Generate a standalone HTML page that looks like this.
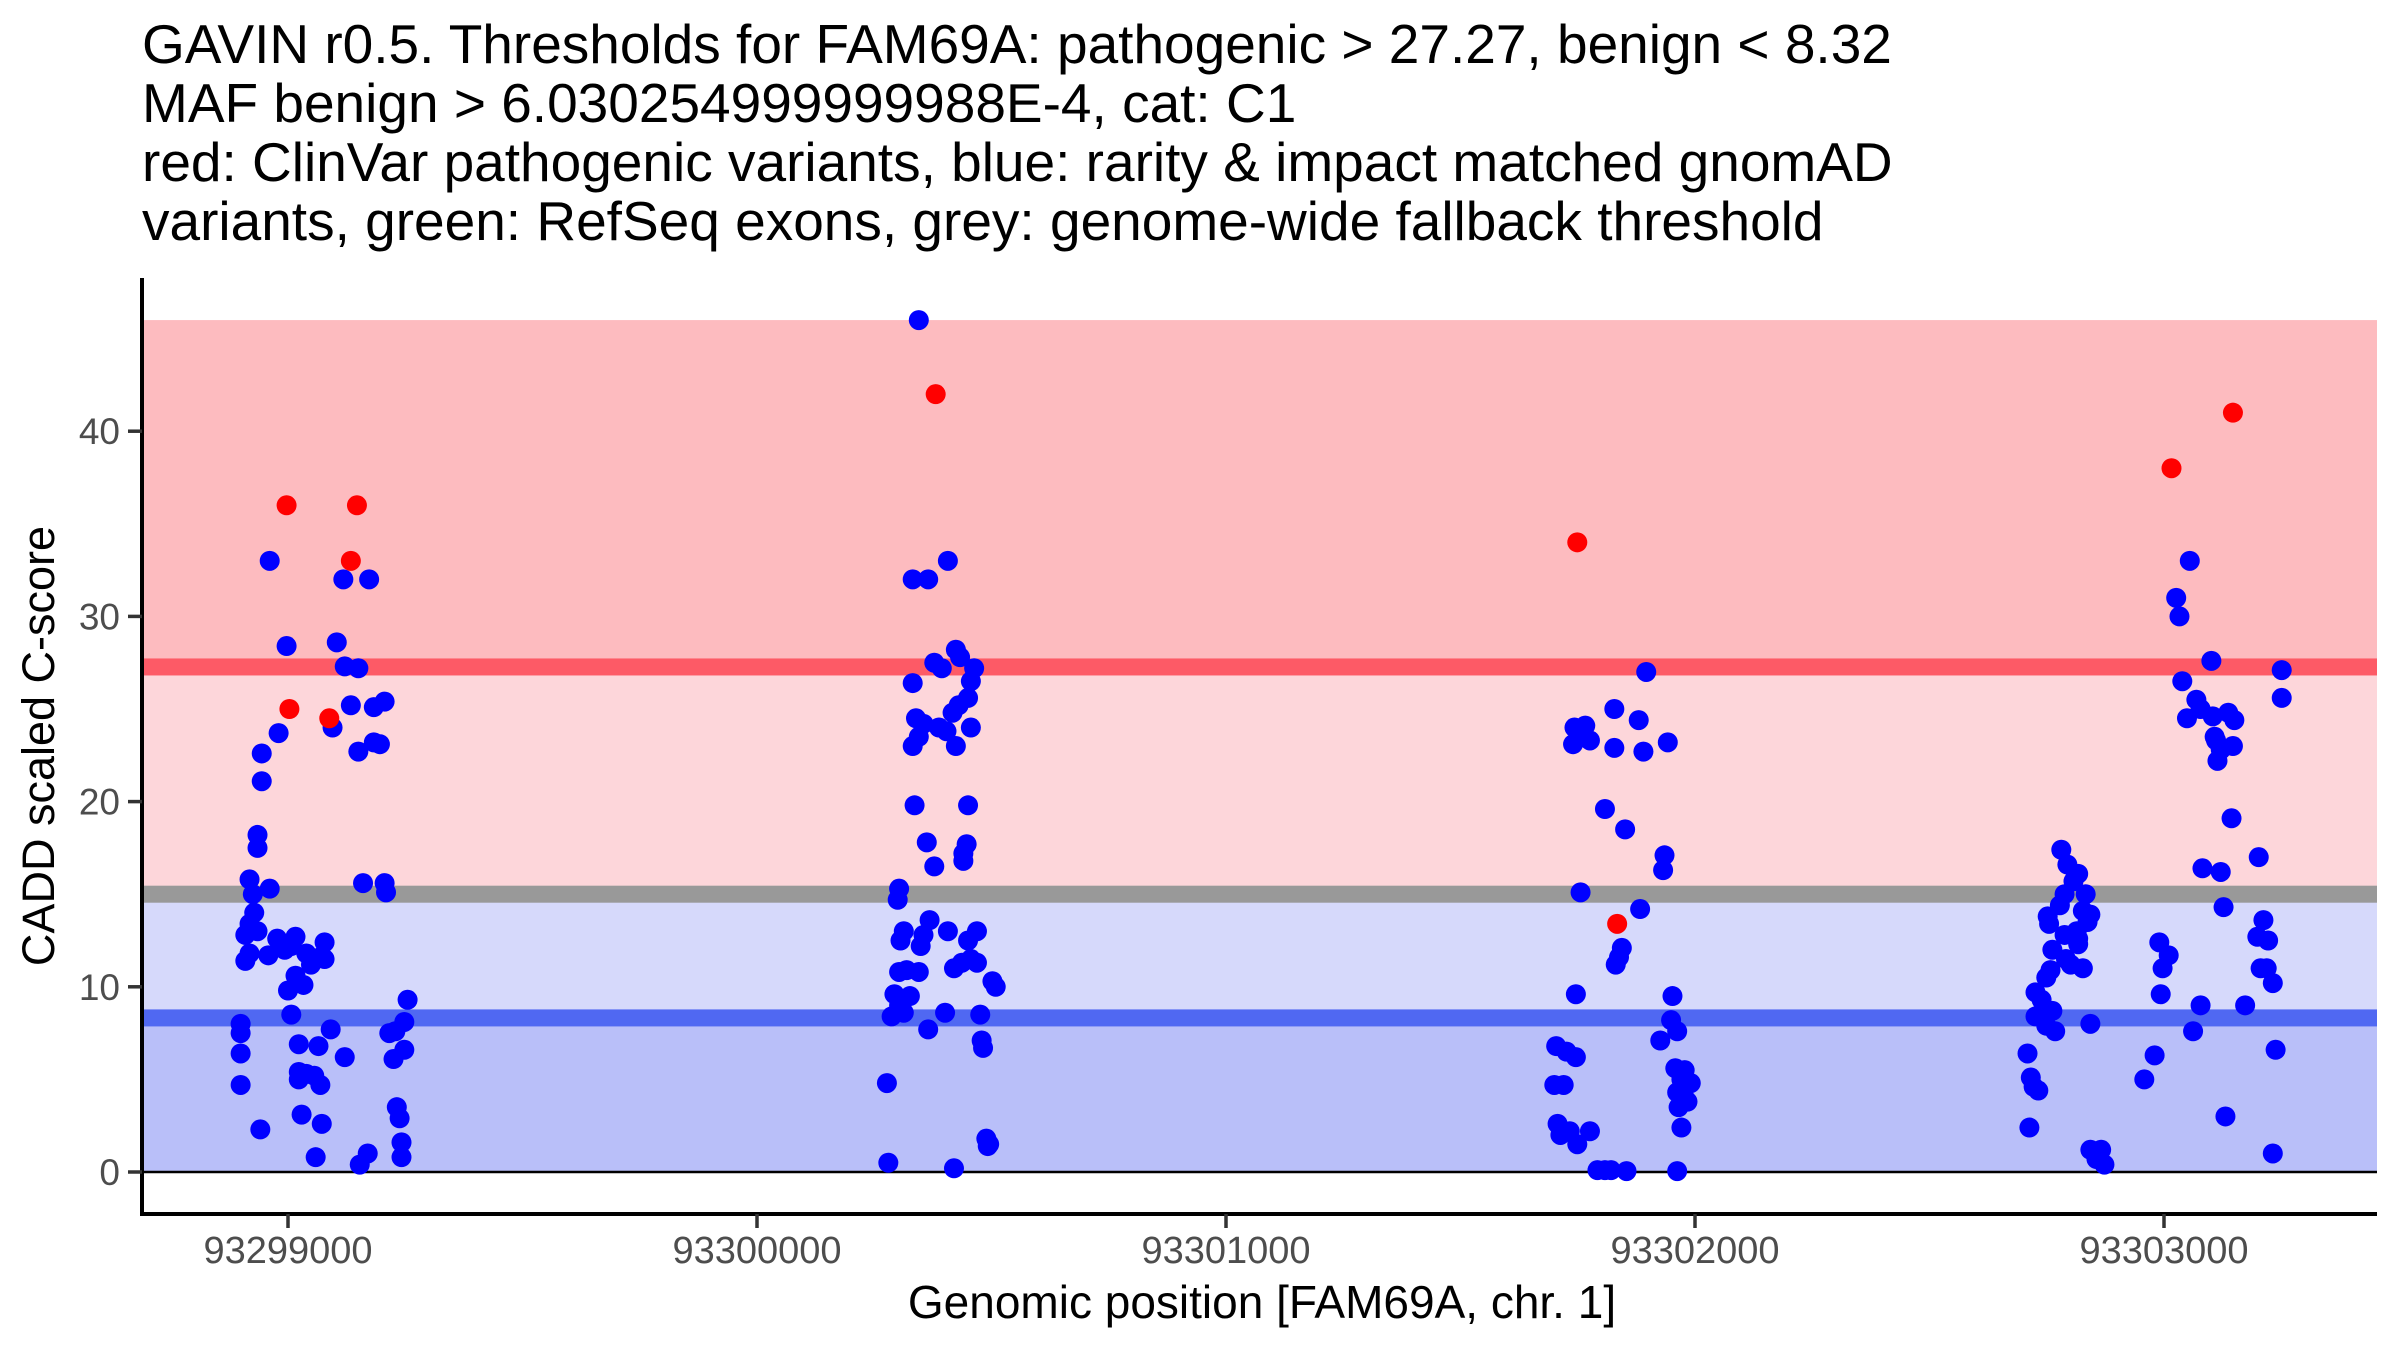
<!DOCTYPE html>
<html><head><meta charset="utf-8"><style>
html,body{margin:0;padding:0;background:#fff;}
svg{display:block;font-family:"Liberation Sans",Arial,sans-serif;}
</style></head><body>
<svg id="chart" width="2400" height="1350" viewBox="0 0 2400 1350">
<g font-size="55" fill="#000">
<text x="142" y="63">GAVIN r0.5. Thresholds for FAM69A: pathogenic &gt; 27.27, benign &lt; 8.32</text>
<text x="142" y="122">MAF benign &gt; 6.030254999999988E-4, cat: C1</text>
<text x="142" y="181">red: ClinVar pathogenic variants, blue: rarity &amp; impact matched gnomAD</text>
<text x="142" y="240">variants, green: RefSeq exons, grey: genome-wide fallback threshold</text>
</g>
<g id="bands"></g>
<g id="points"></g>
<g id="axes"></g>
<text x="1262" y="1318" font-size="46" text-anchor="middle" fill="#000">Genomic position [FAM69A, chr. 1]</text>
<text transform="translate(54,746) rotate(-90)" font-size="45" text-anchor="middle" fill="#000">CADD scaled C-score</text>
</svg>
<script>
const POS_BASE = 93299000;
const xTicks = [93299000, 93300000, 93301000, 93302000, 93303000];
const yTicks = [0, 10, 20, 30, 40];
const pathogenicThreshold = 27.27;
const benignThreshold = 8.32;
const fallbackThreshold = 15;
const maxScore = 46;
const bluePoints = [
[-39,33],[-3,28.4],[118,32],[173,32],[104,28.6],[121,27.3],[150,27.2],[134,25.2],[183,25.1],[206,25.4],[-20,23.7],[-56,22.6],[-56,21.1],[95,24],[150,22.7],[183,23.2],[196,23.1],[-65,18.2],[-65,17.5],[-82,15.8],[-39,15.3],[-75,15],[160,15.6],[206,15.6],[209,15.1],[-72,14],[-82,13.4],[-91,12.8],[-65,13],[-42,11.7],[-91,11.4],[-82,11.8],[-23,12.6],[-7,12],[7,12.2],[16,12.7],[39,11.8],[49,11.2],[69,11.6],[78,12.4],[78,11.5],[16,10.6],[0,9.8],[33,10.1],[7,8.5],[-101,8],[-101,7.5],[-101,6.4],[-101,4.7],[-59,2.3],[23,6.9],[65,6.8],[91,7.7],[121,6.2],[23,5.4],[39,5.3],[56,5.2],[23,5],[69,4.7],[29,3.1],[72,2.6],[59,0.8],[153,0.4],[170,1.0],[216,7.5],[229,7.6],[248,8.1],[255,9.3],[248,6.6],[225,6.1],[232,3.5],[238,2.9],[242,1.6],[242,0.8],
[1345,46],[1332,32],[1365,32],[1407,33],[1378,27.5],[1394,27.2],[1424,28.2],[1433,27.8],[1463,27.2],[1456,26.5],[1332,26.4],[1339,24.5],[1355,24.2],[1388,24],[1404,23.8],[1417,24.8],[1430,25.2],[1450,25.6],[1456,24],[1332,23],[1345,23.5],[1424,23],[1336,19.8],[1450,19.8],[1362,17.8],[1378,16.5],[1447,17.7],[1440,17.2],[1440,16.8],[1303,15.3],[1300,14.7],[1368,13.6],[1407,13],[1469,13],[1313,13],[1306,12.5],[1349,12.2],[1355,12.8],[1420,11.0],[1437,11.3],[1456,11.5],[1469,11.3],[1450,12.5],[1303,10.8],[1319,10.9],[1345,10.8],[1326,9.5],[1293,9.6],[1303,9.0],[1287,8.4],[1313,8.6],[1365,7.7],[1401,8.6],[1476,8.5],[1502,10.3],[1509,10],[1479,7.1],[1482,6.7],[1277,4.8],[1280,0.5],[1420,0.2],[1489,1.8],[1492,1.4],[1495,1.5],
[2896,27],[2743,24],[2766,24.1],[2756,23.5],[2740,23.1],[2776,23.3],[2828,25],[2880,24.4],[2890,22.7],[2942,23.2],[2828,22.9],[2808,19.6],[2851,18.5],[2935,17.1],[2932,16.3],[2756,15.1],[2883,14.2],[2844,12.1],[2838,11.6],[2831,11.2],[2746,9.6],[2952,9.5],[2949,8.2],[2926,7.1],[2962,7.6],[2704,6.8],[2726,6.5],[2746,6.2],[2700,4.7],[2720,4.7],[2958,5.6],[2978,5.5],[2971,5.0],[2991,4.8],[2962,4.3],[2978,4.0],[2965,3.5],[2984,3.8],[2971,2.4],[2707,2.6],[2713,2.0],[2733,2.2],[2776,2.2],[2749,1.5],[2792,0.1],[2808,0.1],[2821,0.1],[2854,0.05],[2962,0.05],
[4055,33],[4026,31],[4033,30],[4101,27.6],[4251,27.1],[4039,26.5],[4069,25.5],[4078,25],[4104,24.6],[4049,24.5],[4137,24.8],[4111,23.3],[4121,22.8],[4114,22.2],[4147,23],[4150,24.4],[4251,25.6],[4108,23.5],[4144,19.1],[4202,17],[4082,16.4],[4121,16.2],[4127,14.3],[3781,17.4],[3794,16.6],[3807,15.7],[3817,16.1],[3788,15],[3778,14.4],[3833,15],[3827,14.1],[3837,13.5],[3843,13.9],[3814,13],[3817,12.6],[3788,12.8],[3752,13.8],[3755,13.4],[3762,12],[3791,11.5],[3817,12.3],[3801,11.2],[3827,11.0],[3990,12.4],[4010,11.7],[3997,11],[3993,9.6],[3749,10.5],[3758,10.9],[3726,9.7],[3739,9.3],[3762,8.7],[3726,8.4],[3749,7.9],[3768,7.6],[3843,8.0],[4078,9],[4173,9],[4212,13.6],[4199,12.7],[4222,12.5],[4206,11],[4219,11],[4232,10.2],[4238,6.6],[4062,7.6],[3709,6.4],[3716,5.1],[3722,4.6],[3732,4.4],[3980,6.3],[3958,5],[3713,2.4],[3843,1.2],[3853,1.0],[3866,1.2],[3856,0.7],[3873,0.4],[4131,3],[4232,1.0]
];
const redPoints = [[-3,36],[147,36],[134,33],[3,25],[88,24.5],[1381,42],[2749,34],[2834,13.4],[4016,38],[4147,41]];

const NS = 'http://www.w3.org/2000/svg';
const PL = 142, PR = 2377, PB = 1214, PT = 278;
function X(g){ return 288 + (g - 93299000) * 0.469; }
function Y(v){ return 1172 - v * 18.52; }
function mk(tag, attrs, parent){ const e = document.createElementNS(NS, tag); for (const k in attrs) e.setAttribute(k, attrs[k]); parent.appendChild(e); return e; }

const bands = document.getElementById('bands');
function band(v0, v1, color, name){
  const r = mk('rect', {x: PL, y: Y(v1), width: PR - PL, height: Y(v0) - Y(v1), fill: color}, bands);
  
  
}
band(pathogenicThreshold, maxScore, '#fdbbbf', 'pathogenic-band');
band(fallbackThreshold, pathogenicThreshold, '#fdd6da', 'upper-grey-zone-band');
band(benignThreshold, fallbackThreshold, '#d6d9fb', 'lower-grey-zone-band');
band(0, benignThreshold, '#b9bff9', 'benign-band');
function line(v, color, name){
  const r = mk('rect', {x: PL, y: Y(v) - 8.5, width: PR - PL, height: 17, fill: color}, bands);
  
  
}
line(pathogenicThreshold, '#fd5a66', 'pathogenic-threshold-line');
line(fallbackThreshold, '#999999', 'fallback-threshold-line');
line(benignThreshold, '#5068f2', 'benign-threshold-line');
const zl = mk('line', {x1: PL, x2: PR, y1: Y(0), y2: Y(0), stroke: '#000', 'stroke-width': 2.5}, bands);



const pts = document.getElementById('points');
bluePoints.forEach(p => {
  const c = mk('circle', {cx: X(POS_BASE + p[0]), cy: Y(p[1]), r: 10, fill: '#0000ff'}, pts);
  
  
});
redPoints.forEach(p => {
  const c = mk('circle', {cx: X(POS_BASE + p[0]), cy: Y(p[1]), r: 10, fill: '#ff0000'}, pts);
  
  
});

const ax = document.getElementById('axes');
const ya = mk('line', {x1: PL, x2: PL, y1: PT, y2: PB + 2, stroke: '#000', 'stroke-width': 4}, ax);


const xa = mk('line', {x1: PL - 2, x2: PR, y1: PB, y2: PB, stroke: '#000', 'stroke-width': 4}, ax);


yTicks.forEach(t => {
  const tk = mk('line', {x1: PL - 14, x2: PL, y1: Y(t), y2: Y(t), stroke: '#333', 'stroke-width': 3.5}, ax);
  
  
  const tx = mk('text', {x: PL - 22, y: Y(t) + 13, 'font-size': 37, fill: '#4d4d4d', 'text-anchor': 'end'}, ax);
  tx.textContent = t;
  
  
});
xTicks.forEach(t => {
  const tk = mk('line', {x1: X(t), x2: X(t), y1: PB, y2: PB + 14, stroke: '#333', 'stroke-width': 3.5}, ax);
  
  
  const tx = mk('text', {x: X(t), y: 1263, 'font-size': 38, fill: '#4d4d4d', 'text-anchor': 'middle'}, ax);
  tx.textContent = t;
  
  
});
</script>
</body></html>
